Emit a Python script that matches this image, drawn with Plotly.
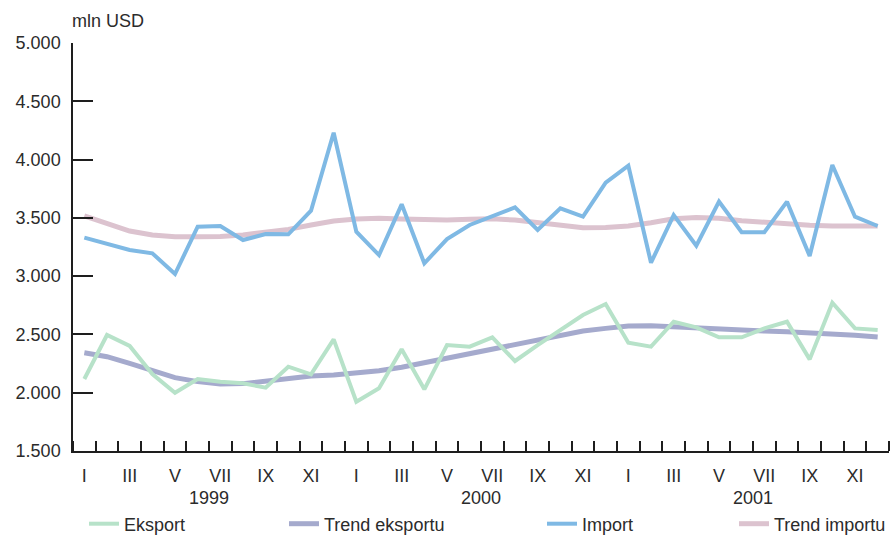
import plotly.graph_objects as go

months = ["I", "II", "III", "IV", "V", "VI", "VII", "VIII", "IX", "X", "XI", "XII"]
years = ["1999", "2000", "2001"]
period = list(range(36))

eksport = [2118, 2495, 2401, 2160, 2000, 2118, 2095, 2081, 2043, 2223, 2158, 2458,
           1923, 2038, 2372, 2029, 2409, 2395, 2475, 2272, 2409, 2538, 2667, 2761,
           2429, 2395, 2609, 2561, 2475, 2475, 2552, 2609, 2286, 2772, 2552, 2538]
trend_eksportu = [2343, 2309, 2252, 2189, 2129, 2095, 2075, 2078, 2100, 2124, 2143, 2152,
                  2166, 2189, 2218, 2258, 2295, 2338, 2378, 2418, 2458, 2495, 2529, 2552,
                  2572, 2575, 2566, 2552, 2538, 2535, 2529, 2523, 2515, 2504, 2492, 2478]
import_ = [3330, 3278, 3224, 3196, 3018, 3424, 3430, 3310, 3361, 3359, 3561, 4230,
           3381, 3181, 3616, 3110, 3318, 3439, 3510, 3590, 3396, 3582, 3510, 3802,
           3947, 3115, 3524, 3261, 3639, 3376, 3376, 3639, 3173, 3953, 3510, 3430]
trend_importu = [3516, 3453, 3387, 3353, 3338, 3338, 3340, 3353, 3376, 3401, 3439, 3473,
                 3490, 3496, 3490, 3484, 3481, 3487, 3493, 3481, 3461, 3439, 3416, 3418,
                 3430, 3458, 3493, 3504, 3496, 3476, 3461, 3444, 3436, 3430, 3430, 3430]

y_ticks = [1500, 2000, 2500, 3000, 3500, 4000, 4500, 5000]

month_tickvals = [i for i in period if i % 2 == 0]
month_ticktext = [months[i % 12] for i in month_tickvals]
year_tickvals = [12 * k + 5.5 for k in range(len(years))]
boundaries = [i - 0.5 for i in range(37)]

FONT = "Liberation Sans, Arial, sans-serif"
FS = 18
TXT = "#2b2b2b"
AX = "#1e1e1e"
W, H = 893, 535

series = [
    ("Eksport", eksport, "#b7e2c9", 4, "legend"),
    ("Trend eksportu", trend_eksportu, "#a5aacd", 5, "legend2"),
    ("Import", import_, "#7fb9e4", 4, "legend3"),
    ("Trend importu", trend_importu, "#dcc3cf", 5, "legend4"),
]

fig = go.Figure()
for idx in [1, 0, 3, 2]:
    name, vals, col, w, lg = series[idx]
    fig.add_trace(go.Scatter(x=period, y=vals, mode="lines", name=name,
                             line=dict(color=col, width=w), legend=lg))

# invisible trace for the year axis
fig.add_trace(go.Scatter(x=[0, 35], y=[None, None], xaxis="x2", showlegend=False,
                         hoverinfo="skip"))

legend_common = dict(orientation="h", yanchor="middle", xanchor="left",
                     bgcolor="rgba(0,0,0,0)", font=dict(family=FONT, size=FS, color=TXT),
                     itemwidth=30, tracegroupgap=0, xref="container", yref="container")
legend_px = [84, 284, 542, 734]
lay_leg = {}
for k, key in enumerate(["legend", "legend2", "legend3", "legend4"]):
    lay_leg[key] = dict(legend_common, x=legend_px[k] / W, y=11 / H)

fig.update_layout(
    width=W, height=H,
    margin=dict(l=73, r=4, t=43, b=84, autoexpand=False),
    paper_bgcolor="white", plot_bgcolor="white",
    separators=",.",
    font=dict(family=FONT, size=FS, color=TXT),
    showlegend=True,
    xaxis=dict(range=[-0.5, 35.5], tickmode="array", tickvals=month_tickvals,
               ticktext=month_ticktext, ticks="", showgrid=False, zeroline=False,
               showline=True, linecolor=AX, linewidth=1.5, ticklabelstandoff=8,
               automargin=False,
               tickfont=dict(family=FONT, size=FS, color=TXT),
               minor=dict(tickmode="array", tickvals=boundaries, ticks="inside",
                          ticklen=10, tickwidth=1.5, tickcolor=AX, showgrid=False)),
    xaxis2=dict(range=[-0.5, 35.5], overlaying="x", side="bottom", anchor="y",
                tickmode="array", tickvals=year_tickvals, ticktext=years, ticks="",
                showgrid=False, zeroline=False, showline=False, ticklabelstandoff=34,
                automargin=False,
                tickfont=dict(family=FONT, size=FS, color=TXT)),
    yaxis=dict(range=[1500, 5000], tickmode="array", tickvals=y_ticks,
               tickformat=",.0f", ticks="inside", ticklen=20, tickwidth=1.5,
               tickcolor=AX, showline=True, linecolor=AX, linewidth=1.5,
               showgrid=False, zeroline=False, ticklabelstandoff=7, automargin=False,
               tickfont=dict(family=FONT, size=FS, color=TXT)),
    annotations=[dict(text="mln USD", xref="paper", yref="paper", x=0, y=1.0,
                      xanchor="left", yanchor="bottom", yshift=10, xshift=-3,
                      showarrow=False,
                      font=dict(family=FONT, size=FS, color=TXT))],
    **lay_leg,
)

fig.write_html("out.html", config={"displayModeBar": False},
               post_script="document.body.style.margin='0';document.body.style.overflow='hidden';")
